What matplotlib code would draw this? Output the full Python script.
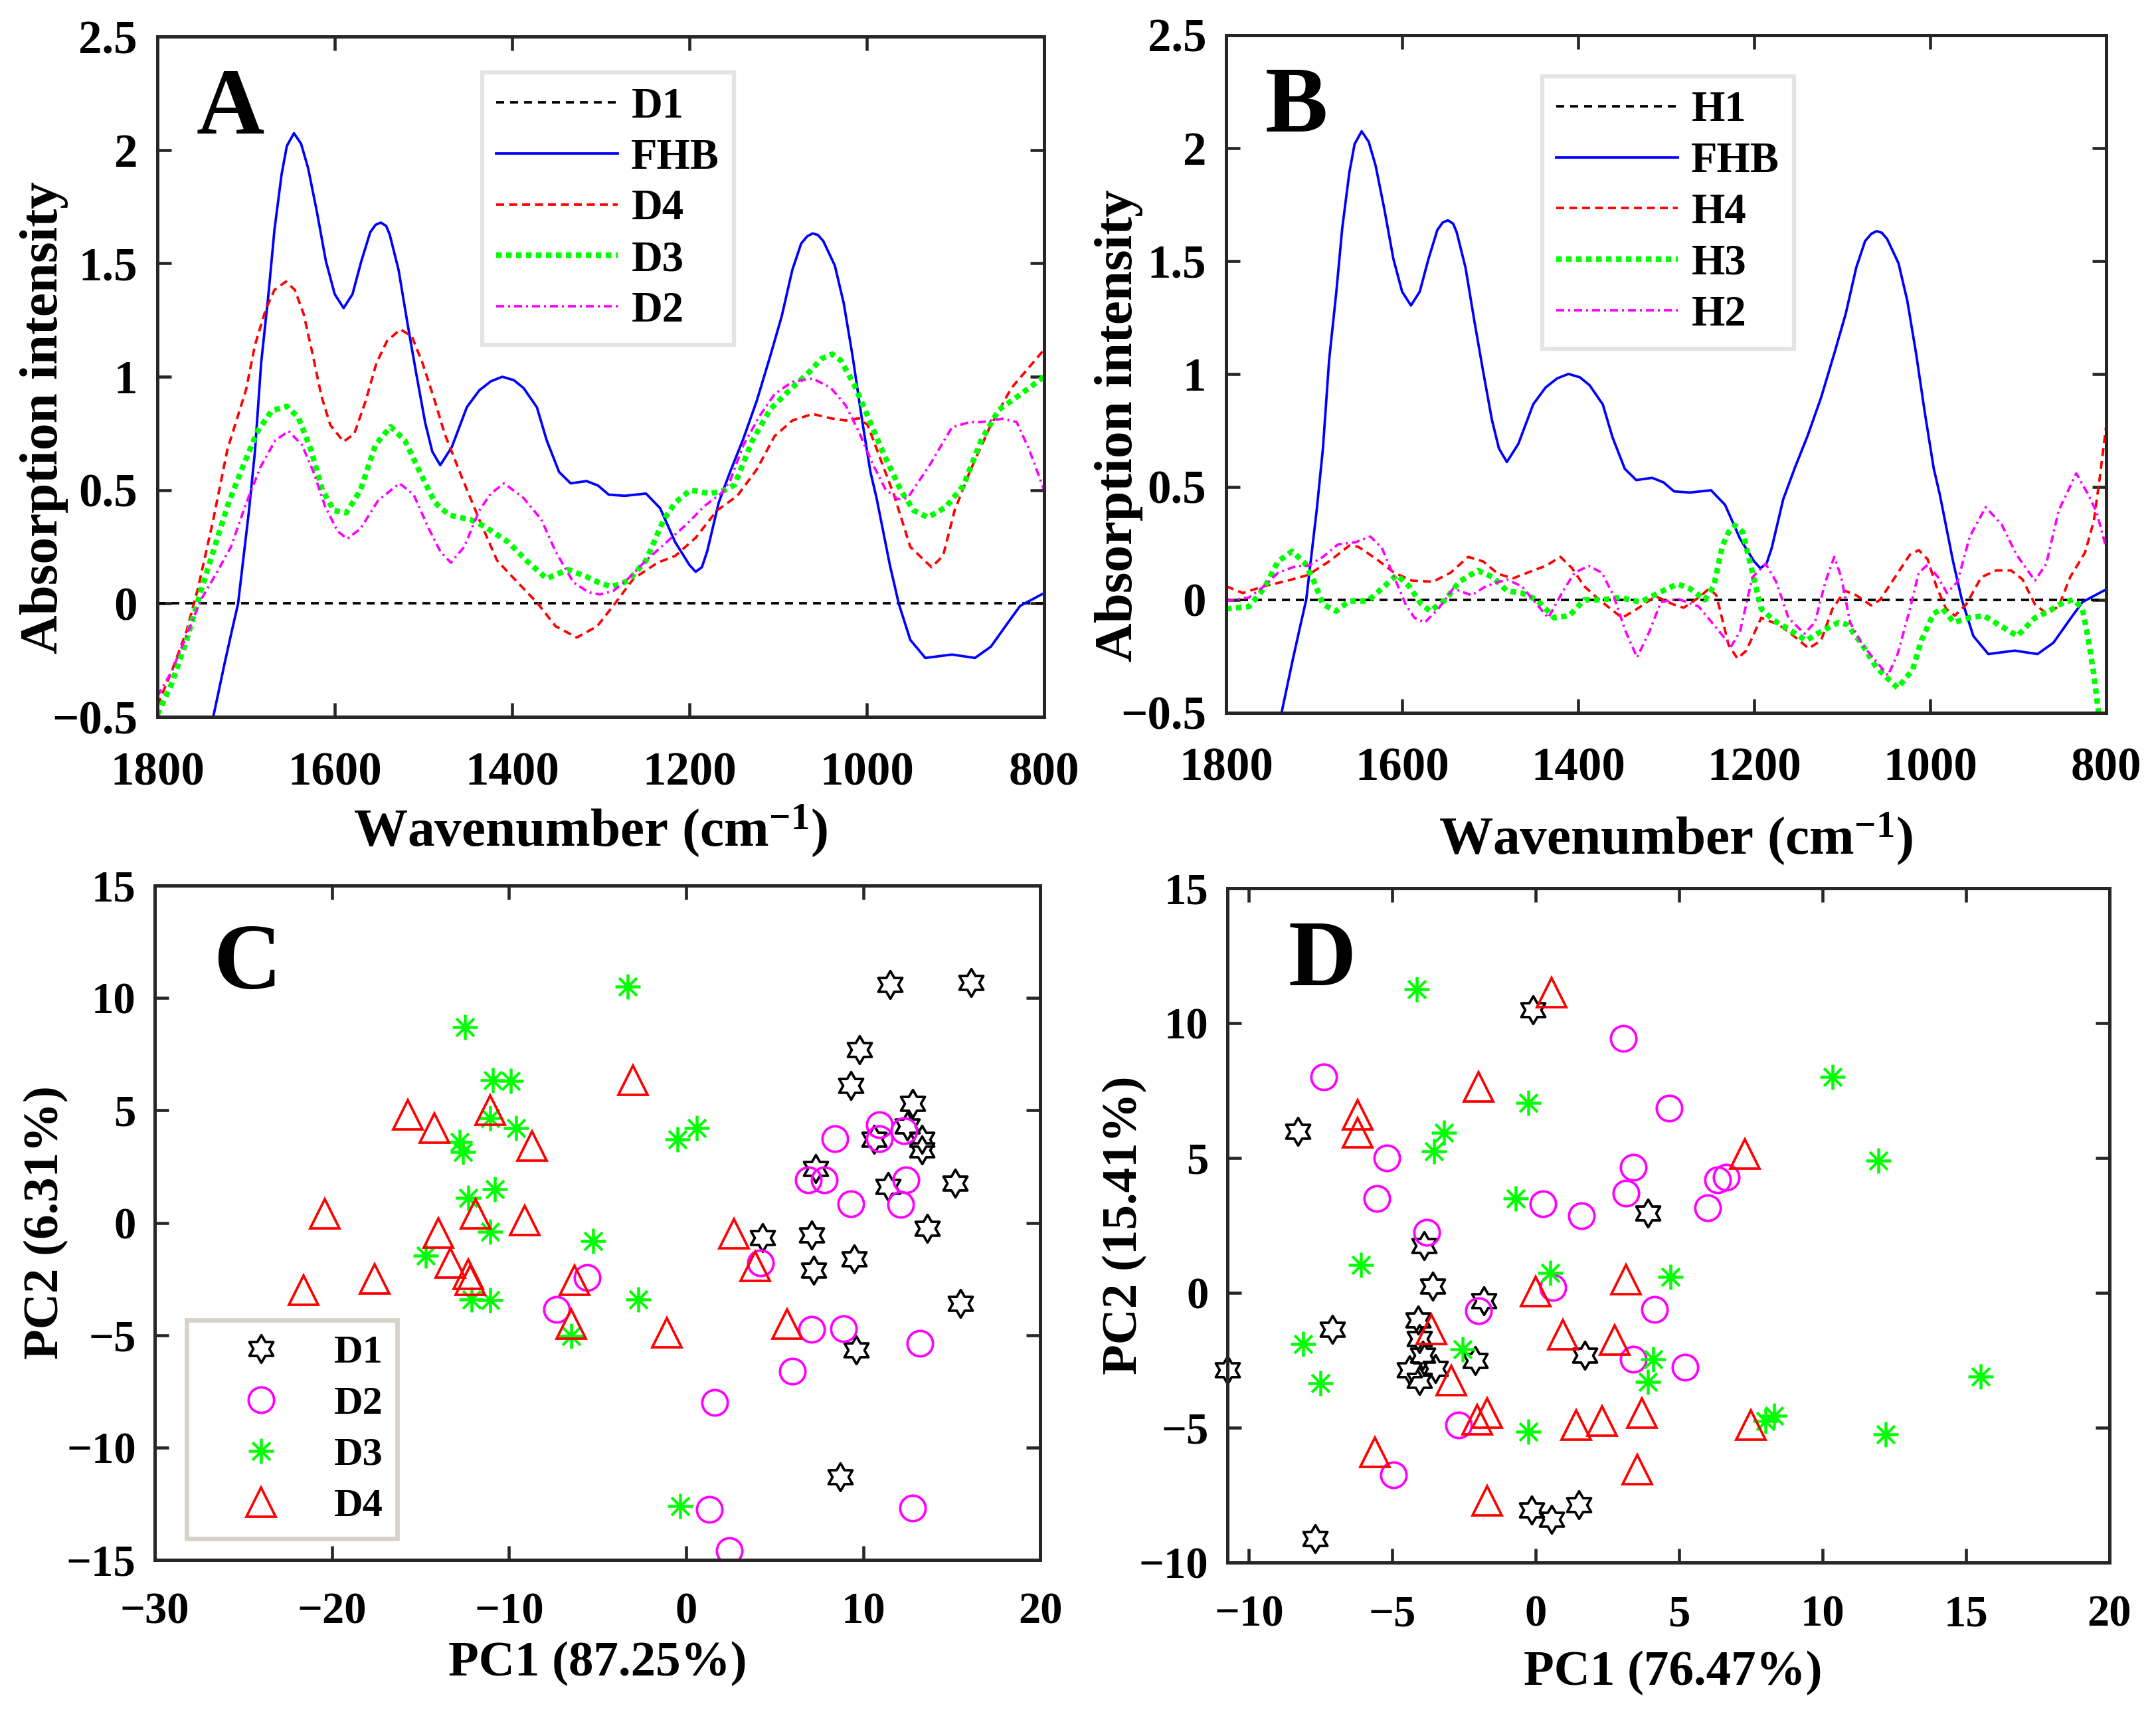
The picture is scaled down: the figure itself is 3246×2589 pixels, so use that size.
import numpy as np
import matplotlib.pyplot as plt
from matplotlib.path import Path

plt.rcParams['font.family'] = ['Liberation Serif', 'DejaVu Serif']
plt.rcParams['font.weight'] = 'bold'
plt.rcParams['mathtext.fontset'] = 'custom'
plt.rcParams['mathtext.rm'] = 'Liberation Serif:bold'
plt.rcParams['mathtext.it'] = 'Liberation Serif:bold'
plt.rcParams['mathtext.bf'] = 'Liberation Serif:bold'
plt.rcParams['mathtext.default'] = 'rm'

# ---------------- spectra ----------------
ref_wn = [1800, 800]
ref_val = [0.0, 0.0]

fhb_wn = [1752, 1737, 1724, 1716, 1709, 1697, 1690, 1683, 1675, 1668, 1660, 1654, 1646, 1638,
          1630, 1620, 1610, 1600, 1590, 1580, 1570, 1560, 1554, 1548, 1542, 1538, 1528, 1518,
          1508, 1498, 1490, 1481, 1468, 1451, 1437, 1424, 1411, 1398, 1387, 1372, 1361, 1347,
          1334, 1316, 1303, 1291, 1273, 1249, 1233, 1216, 1200, 1193, 1186, 1180, 1167, 1154,
          1139, 1124, 1109, 1096, 1084, 1074, 1067, 1061, 1055, 1049, 1036, 1026, 1016, 1006,
          996, 989, 974, 964, 951, 934, 904, 878, 860, 840, 827, 803, 800]
fhb_val = [-0.78, -0.50, -0.26, -0.12, 0.0, 0.40, 0.67, 1.06, 1.354, 1.647, 1.891, 2.018, 2.074, 2.028,
           1.92, 1.725, 1.51, 1.364, 1.303, 1.364, 1.51, 1.637, 1.67, 1.68, 1.665, 1.627, 1.471, 1.236,
           1.012, 0.797, 0.67, 0.61, 0.69, 0.866, 0.94, 0.98, 1.0, 0.985, 0.95, 0.865, 0.72, 0.58,
           0.53, 0.54, 0.52, 0.48, 0.475, 0.485, 0.42, 0.27, 0.17, 0.14, 0.16, 0.23, 0.445, 0.582,
           0.729, 0.895, 1.09, 1.266, 1.471, 1.588, 1.62, 1.632, 1.625, 1.598, 1.49, 1.324, 1.09, 0.826,
           0.582, 0.465, 0.17, 0.0, -0.16, -0.24, -0.225, -0.24, -0.19, -0.08, -0.01, 0.04, 0.045]

d4_wn = [1800, 1784, 1767, 1754, 1737, 1721, 1700, 1690, 1678, 1668, 1655, 1645, 1635, 1625,
         1615, 1605, 1590, 1578, 1565, 1553, 1541, 1526, 1513, 1501, 1488, 1476, 1457, 1437,
         1417, 1394, 1371, 1351, 1327, 1304, 1284, 1263, 1236, 1216, 1193, 1169, 1146, 1124,
         1104, 1084, 1061, 1041, 1024, 1009, 999, 984, 969, 951, 927, 914, 901, 884, 861, 837, 800]
d4_val = [-0.45, -0.30, -0.12, 0.07, 0.37, 0.68, 0.943, 1.139, 1.295, 1.383, 1.42, 1.383, 1.276, 1.10,
          0.914, 0.787, 0.714, 0.748, 0.895, 1.06, 1.158, 1.209, 1.178, 1.06, 0.904, 0.748, 0.56, 0.37,
          0.19, 0.094, 0.0, -0.10, -0.15, -0.10, 0.0, 0.11, 0.18, 0.21, 0.29, 0.41, 0.475, 0.592,
          0.738, 0.807, 0.836, 0.817, 0.807, 0.817, 0.787, 0.631, 0.475, 0.25, 0.16, 0.21, 0.41, 0.58, 0.78, 0.95, 1.12]

d3_wn = [1800, 1784, 1767, 1751, 1737, 1721, 1704, 1687, 1671, 1654, 1641, 1627, 1614, 1601,
         1587, 1571, 1554, 1537, 1521, 1504, 1487, 1471, 1447, 1431, 1404, 1384, 1361, 1337,
         1317, 1303, 1288, 1269, 1249, 1229, 1216, 1199, 1176, 1160, 1149, 1129, 1109, 1089,
         1066, 1051, 1039, 1029, 1014, 999, 981, 961, 947, 931, 911, 891, 871, 851, 831, 800]
d3_val = [-0.49, -0.355, -0.16, 0.055, 0.23, 0.43, 0.60, 0.76, 0.85, 0.87, 0.82, 0.68, 0.50, 0.41,
          0.40, 0.50, 0.70, 0.78, 0.72, 0.58, 0.445, 0.39, 0.37, 0.34, 0.27, 0.19, 0.11, 0.15,
          0.12, 0.094, 0.074, 0.10, 0.19, 0.37, 0.445, 0.50, 0.485, 0.50, 0.524, 0.719, 0.856, 0.934,
          1.017, 1.08, 1.10, 1.071, 0.963, 0.826, 0.66, 0.494, 0.41, 0.38, 0.425, 0.52, 0.72, 0.855, 0.91, 1.0]

d2_wn = [1800, 1784, 1767, 1751, 1734, 1717, 1701, 1684, 1667, 1652, 1637, 1624, 1611, 1597,
         1586, 1571, 1551, 1527, 1511, 1494, 1481, 1469, 1454, 1437, 1424, 1409, 1387, 1367,
         1351, 1331, 1314, 1301, 1286, 1269, 1249, 1226, 1203, 1183, 1163, 1154, 1139, 1121,
         1104, 1084, 1061, 1041, 1024, 1009, 994, 979, 965, 954, 929, 904, 884, 871, 847, 831, 817, 800]
d2_val = [-0.41, -0.30, -0.14, 0.016, 0.13, 0.25, 0.43, 0.60, 0.72, 0.76, 0.70, 0.58, 0.43, 0.32,
          0.285, 0.33, 0.455, 0.53, 0.48, 0.33, 0.23, 0.18, 0.25, 0.41, 0.485, 0.53, 0.465, 0.37,
          0.23, 0.094, 0.05, 0.04, 0.055, 0.11, 0.19, 0.27, 0.35, 0.43, 0.49, 0.543, 0.70, 0.826,
          0.924, 0.978, 0.992, 0.953, 0.875, 0.758, 0.621, 0.504, 0.46, 0.465, 0.611, 0.777, 0.80, 0.80, 0.815, 0.80, 0.68, 0.50]

h4_wn = [1800, 1781, 1757, 1730, 1707, 1683, 1660, 1650, 1629, 1609, 1589, 1565, 1545, 1525,
         1508, 1491, 1474, 1451, 1437, 1420, 1407, 1393, 1376, 1363, 1350, 1333, 1312, 1292,
         1280, 1263, 1251, 1243, 1229, 1219, 1209, 1192, 1172, 1155, 1138, 1124, 1111, 1097,
         1084, 1067, 1057, 1040, 1023, 1013, 1003, 993, 982, 972, 959, 942, 925, 908, 895,
         881, 868, 854, 841, 824, 814, 807, 800]
h4_val = [0.06, 0.03, 0.06, 0.085, 0.11, 0.17, 0.24, 0.235, 0.18, 0.12, 0.085, 0.08, 0.12, 0.19,
          0.17, 0.115, 0.095, 0.13, 0.15, 0.19, 0.14, 0.06, 0.0, -0.04, -0.08, -0.04, 0.016, -0.02,
          -0.035, 0.01, 0.05, 0.02, -0.20, -0.26, -0.225, -0.08, -0.11, -0.16, -0.215, -0.18, -0.04, 0.04,
          0.02, -0.025, 0.0, 0.10, 0.20, 0.22, 0.18, 0.06, -0.04, -0.07, -0.02, 0.10, 0.13, 0.13, 0.09,
          -0.02, -0.06, -0.03, 0.10, 0.21, 0.35, 0.55, 0.77]

h3_wn = [1800, 1774, 1757, 1741, 1725, 1710, 1700, 1690, 1675, 1660, 1639, 1623, 1606, 1592,
         1578, 1568, 1551, 1535, 1514, 1497, 1481, 1464, 1447, 1427, 1410, 1393, 1373, 1353,
         1329, 1309, 1287, 1273, 1256, 1246, 1236, 1229, 1222, 1213, 1202, 1192, 1178, 1161,
         1141, 1124, 1104, 1094, 1077, 1061, 1037, 1020, 1010, 996, 986, 973, 956, 939, 918,
         901, 881, 865, 848, 837, 827, 821, 814, 809, 805]
h3_val = [-0.04, -0.03, 0.05, 0.17, 0.215, 0.16, 0.08, -0.02, -0.05, -0.005, -0.005, 0.05, 0.11, 0.06,
          -0.02, -0.05, 0.0, 0.08, 0.13, 0.10, 0.04, 0.03, 0.0, -0.08, -0.07, 0.0, 0.0, 0.01,
          -0.01, 0.03, 0.07, 0.05, 0.0, 0.06, 0.24, 0.30, 0.33, 0.30, 0.12, -0.04, -0.09, -0.13,
          -0.18, -0.14, -0.10, -0.11, -0.20, -0.30, -0.39, -0.31, -0.18, -0.06, -0.04, -0.10, -0.08, -0.07, -0.12,
          -0.16, -0.08, -0.05, -0.01, 0.0, -0.04, -0.16, -0.33, -0.49, -0.62]

h2_wn = [1800, 1774, 1757, 1741, 1720, 1707, 1690, 1673, 1653, 1636, 1623, 1609, 1596, 1586,
         1574, 1559, 1542, 1521, 1505, 1481, 1464, 1447, 1434, 1417, 1404, 1388, 1373, 1360,
         1346, 1333, 1319, 1306, 1287, 1263, 1246, 1226, 1216, 1202, 1187, 1175, 1161, 1143,
         1131, 1119, 1109, 1101, 1091, 1077, 1064, 1048, 1037, 1023, 1013, 1003, 991, 981, 969,
         955, 937, 919, 902, 881, 868, 854, 834, 821, 811, 800]
h2_val = [-0.005, 0.01, 0.06, 0.12, 0.15, 0.15, 0.19, 0.245, 0.255, 0.28, 0.23, 0.10, -0.02, -0.08,
          -0.10, -0.04, 0.05, 0.02, 0.06, 0.09, 0.06, -0.02, -0.08, 0.04, 0.12, 0.15, 0.12, 0.02,
          -0.14, -0.255, -0.14, -0.01, 0.005, -0.03, -0.11, -0.205, -0.14, 0.10, 0.16, 0.08, -0.08, -0.15,
          -0.10, 0.08, 0.19, 0.10, -0.10, -0.20, -0.26, -0.335, -0.24, -0.04, 0.12, 0.155, 0.10, 0.03, 0.08,
          0.28, 0.41, 0.335, 0.20, 0.085, 0.16, 0.395, 0.56, 0.47, 0.39, 0.23]

spec_xticks = [1800, 1600, 1400, 1200, 1000, 800]
spec_yticks = [-0.5, 0, 0.5, 1, 1.5, 2, 2.5]

# ---------------- PCA scores ----------------
c_d1_x = [11.5, 16.1, 9.8, 9.3, 12.8, 12.5, 10.6, 13.3, 13.3, 7.3, 11.4, 15.2, 13.6, 4.3, 7.1, 9.5, 7.2, 15.5, 9.6, 8.7]
c_d1_y = [10.6, 10.7, 7.7, 6.1, 5.3, 4.3, 3.7, 3.7, 3.25, 2.4, 1.6, 1.75, -0.25, -0.65, -0.55, -1.6, -2.1, -3.6, -5.65, -11.3]
c_d2_x = [8.4, 10.9, 10.9, 12.3, 6.9, 7.8, 12.4, 9.3, 12.1, 4.2, -5.6, -7.3, 7.1, 8.9, 13.2, 6.0, 1.6, 1.3, 12.8, 2.45]
c_d2_y = [3.75, 4.35, 3.75, 4.1, 1.9, 1.9, 1.9, 0.85, 0.8, -1.8, -2.45, -3.85, -4.75, -4.7, -5.35, -6.6, -8.0, -12.75, -12.7, -14.6]
c_d3_x = [-3.3, -12.5, -10.9, -9.9, -11.05, -9.6, -12.8, -12.6, -0.5, 0.6, -12.3, -10.8, -11.05, -5.25, -14.7, -12.1, -11.05, -2.7, -6.5, -0.35]
c_d3_y = [10.5, 8.7, 6.35, 6.3, 4.65, 4.2, 3.6, 3.15, 3.7, 4.2, 1.1, 1.5, -0.4, -0.8, -1.45, -3.4, -3.45, -3.4, -5.05, -12.6]
c_d4_x = [-3.0, -15.7, -14.2, -11.05, -8.7, -20.4, -11.9, -9.1, -14.0, 2.7, -13.3, -12.3, -12.2, -17.6, -21.6, -6.3, 3.9, -6.5, -1.1, 5.7]
c_d4_y = [6.35, 4.8, 4.2, 5.0, 3.4, 0.4, 0.4, 0.1, -0.45, -0.5, -1.8, -2.3, -2.55, -2.5, -3.0, -2.55, -1.95, -4.5, -4.9, -4.5]

d_d1_x = [-0.1, -8.3, 3.9, -3.9, -3.6, -1.8, -7.1, -4.1, -4.05, -3.95, -4.4, -3.5, -4.05, -2.1, 1.7, -10.74, -0.15, 0.55, 1.5, -7.7]
d_d1_y = [10.5, 6.0, 2.95, 1.75, 0.25, -0.3, -1.35, -1.0, -1.7, -2.3, -2.85, -2.8, -3.25, -2.5, -2.3, -2.85, -8.05, -8.4, -7.85, -9.1]
d_d2_x = [-7.4, 3.05, 4.65, -5.2, -5.55, 3.4, 3.15, 0.25, 1.6, 6.35, 6.65, 6.0, -3.8, 0.6, -2.0, 4.15, 3.4, 5.2, -2.7, -4.95]
d_d2_y = [8.0, 9.45, 6.85, 5.0, 3.5, 4.65, 3.7, 3.3, 2.85, 4.2, 4.3, 3.15, 2.25, 0.2, -0.65, -0.6, -2.45, -2.75, -4.9, -6.75]
d_d3_x = [-4.15, 10.35, -0.25, -3.2, -3.55, 11.95, -0.7, -6.1, 0.5, 4.7, -8.1, -2.55, 4.1, 3.9, -7.5, 15.5, 8.0, 8.3, -0.25, 12.2]
d_d3_y = [11.25, 8.0, 7.05, 5.95, 5.25, 4.9, 3.5, 1.05, 0.75, 0.6, -1.9, -2.1, -2.45, -3.3, -3.35, -3.1, -4.75, -4.55, -5.15, -5.25]
d_d4_x = [0.55, -2.0, -6.2, -6.2, 7.3, 0.0, 3.15, -3.65, 0.95, 2.75, -2.95, -2.05, -1.7, 1.4, 2.3, 3.7, 7.5, -5.6, 3.55, -1.7]
d_d4_y = [11.15, 7.65, 6.6, 5.95, 5.15, 0.05, 0.5, -1.35, -1.55, -1.75, -3.25, -4.7, -4.45, -4.9, -4.75, -4.45, -4.9, -5.9, -6.55, -7.7]

c_xticks = [-30, -20, -10, 0, 10, 20]
c_yticks = [-15, -10, -5, 0, 5, 10, 15]
d_xticks = [-10, -5, 0, 5, 10, 15, 20]
d_yticks = [-10, -5, 0, 5, 10, 15]

# ---------------- styling ----------------
spine_col = '#262626'


def fmt(v):
    return '{:g}'.format(v).replace('-', '\u2212')


def hexagram():
    ang = np.deg2rad(90 + 30 * np.arange(12))
    r = np.where(np.arange(12) % 2 == 0, 1.0, 1 / np.sqrt(3))
    verts = np.column_stack([r * np.cos(ang), r * np.sin(ang)])
    return Path(np.vstack([verts, verts[:1]]), closed=True)


def style_axes(ax, xticks, yticks, fs, xpad, ypad):
    ax.set_xticks(xticks)
    ax.set_xticklabels([fmt(v) for v in xticks])
    ax.set_yticks(yticks)
    ax.set_yticklabels([fmt(v) for v in yticks])
    ax.tick_params(direction='in', top=True, right=True, length=5, width=1.1,
                   color=spine_col, labelsize=fs)
    ax.tick_params(axis='x', pad=xpad)
    ax.tick_params(axis='y', pad=ypad)
    for lab in ax.get_xticklabels() + ax.get_yticklabels():
        lab.set_fontweight('bold')
    for s in ax.spines.values():
        s.set_linewidth(1.2)
        s.set_color(spine_col)


fig = plt.figure(figsize=(10.82, 8.63), dpi=300)
axA = fig.add_axes([0.0730, 0.5832, 0.4113, 0.3955])
axB = fig.add_axes([0.5687, 0.5856, 0.4082, 0.3940])
axC = fig.add_axes([0.0718, 0.0931, 0.4107, 0.3920])
axD = fig.add_axes([0.5693, 0.0915, 0.4091, 0.3920])

dash_k = (0, (3.2, 2.4))
dash_r = (0, (3.2, 2.0))
dot_g = (0, (1.0, 0.8))
dashdot_m = (0, (3.2, 1.6, 0.8, 1.6))


def spectra(ax, series, letter, leg_anchor):
    handles = []
    for wn, val, col, ls, lw, name in series:
        h, = ax.plot(wn, val, color=col, ls=ls, lw=lw, label=name)
        handles.append(h)
    ax.set_xlim(1800, 800)
    ax.set_ylim(-0.5, 2.5)
    style_axes(ax, spec_xticks, spec_yticks, 17, 12.5, 7.2)
    ax.text(0.044, 0.858, letter, transform=ax.transAxes, fontsize=34,
            fontweight='bold', ha='left', va='baseline')
    leg = ax.legend(handles=handles, loc='upper left', bbox_to_anchor=leg_anchor,
                    borderaxespad=0, fontsize=15.5, handlelength=2.84,
                    handletextpad=0.31, borderpad=0.33, labelspacing=0.26,
                    fancybox=False, framealpha=1, edgecolor='#e4e4e4')
    leg.get_frame().set_linewidth(1.5)
    for t in leg.get_texts():
        t.set_fontweight('bold')


spectra(axA, [
    (ref_wn, ref_val, 'k', dash_k, 0.9, 'D1'),
    (fhb_wn, fhb_val, '#0000ff', '-', 0.9, 'FHB'),
    (d4_wn, d4_val, '#ff0000', dash_r, 0.9, 'D4'),
    (d3_wn, d3_val, '#00ff00', dot_g, 2.0, 'D3'),
    (d2_wn, d2_val, '#ff00ff', dashdot_m, 0.9, 'D2'),
], 'A', (0.366, 0.947))
spectra(axB, [
    (ref_wn, ref_val, 'k', dash_k, 0.9, 'H1'),
    (fhb_wn, fhb_val, '#0000ff', '-', 0.9, 'FHB'),
    (h4_wn, h4_val, '#ff0000', dash_r, 0.9, 'H4'),
    (h3_wn, h3_val, '#00ff00', dot_g, 2.0, 'H3'),
    (h2_wn, h2_val, '#ff00ff', dashdot_m, 0.9, 'H2'),
], 'B', (0.359, 0.939))

axA.set_ylabel('Absorption intensity', fontsize=19.5, fontweight='bold')
axA.yaxis.set_label_coords(-0.100, 0.440)
axB.set_ylabel('Absorption intensity', fontsize=19.5, fontweight='bold')
axB.yaxis.set_label_coords(-0.094, 0.424)
axA.set_xlabel('Wavenumber (cm$^{-1}$)', fontsize=19.5, fontweight='bold', va='baseline')
axA.xaxis.set_label_coords(0.488, -0.190)
axB.set_xlabel('Wavenumber (cm$^{-1}$)', fontsize=19.5, fontweight='bold', va='baseline')
axB.xaxis.set_label_coords(0.511, -0.209)

star = hexagram()
marker_styles = [
    ('D1', star, 'k', 10.0),
    ('D2', 'o', '#ff00ff', 9.2),
    ('D3', (8, 2, 0), '#00ff00', 9.0),
    ('D4', '^', '#ff0000', 10.5),
]


def pca(ax, groups, xlim, ylim, xticks, yticks, letter, letter_x, letter_y, clip=True):
    handles = []
    for (xs, ys), (name, mk, col, ms) in zip(groups, marker_styles):
        h, = ax.plot(xs, ys, ls='none', marker=mk, ms=ms, mec=col, mfc='none',
                     mew=0.9, label=name, clip_on=clip)
        handles.append(h)
    ax.set_xlim(*xlim)
    ax.set_ylim(*ylim)
    style_axes(ax, xticks, yticks, 16, 11.6, 6.8)
    ax.text(letter_x, letter_y, letter, transform=ax.transAxes, fontsize=34,
            fontweight='bold', ha='left', va='baseline')
    return handles


hC = pca(axC, [(c_d1_x, c_d1_y), (c_d2_x, c_d2_y), (c_d3_x, c_d3_y), (c_d4_x, c_d4_y)],
         (-30, 20), (-15, 15), c_xticks, c_yticks, 'C', 0.066, 0.847)
pca(axD, [(d_d1_x, d_d1_y), (d_d2_x, d_d2_y), (d_d3_x, d_d3_y), (d_d4_x, d_d4_y)],
    (-10.75, 20), (-10, 15), d_xticks, d_yticks, 'D', 0.069, 0.856, clip=False)

legC = axC.legend(handles=hC, loc='lower left', bbox_to_anchor=(0.036, 0.0315),
                  borderaxespad=0, fontsize=14.5, numpoints=1, handlelength=3.01,
                  handletextpad=0.32, borderpad=0.35, labelspacing=0.36,
                  fancybox=False, framealpha=1, edgecolor='#d6d1c9')
legC.get_frame().set_linewidth(1.6)
for t in legC.get_texts():
    t.set_fontweight('bold')

axC.set_xlabel('PC1 (87.25%)', fontsize=18, fontweight='bold', va='baseline')
axC.xaxis.set_label_coords(0.5, -0.172)
axC.set_ylabel('PC2 (6.31%)', fontsize=18, fontweight='bold')
axC.yaxis.set_label_coords(-0.0975, 0.5)
axD.set_xlabel('PC1 (76.47%)', fontsize=18, fontweight='bold', va='baseline')
axD.xaxis.set_label_coords(0.505, -0.181)
axD.set_ylabel('PC2 (15.41%)', fontsize=18, fontweight='bold')
axD.yaxis.set_label_coords(-0.091, 0.5)

fig.savefig('out.png', dpi=300)
